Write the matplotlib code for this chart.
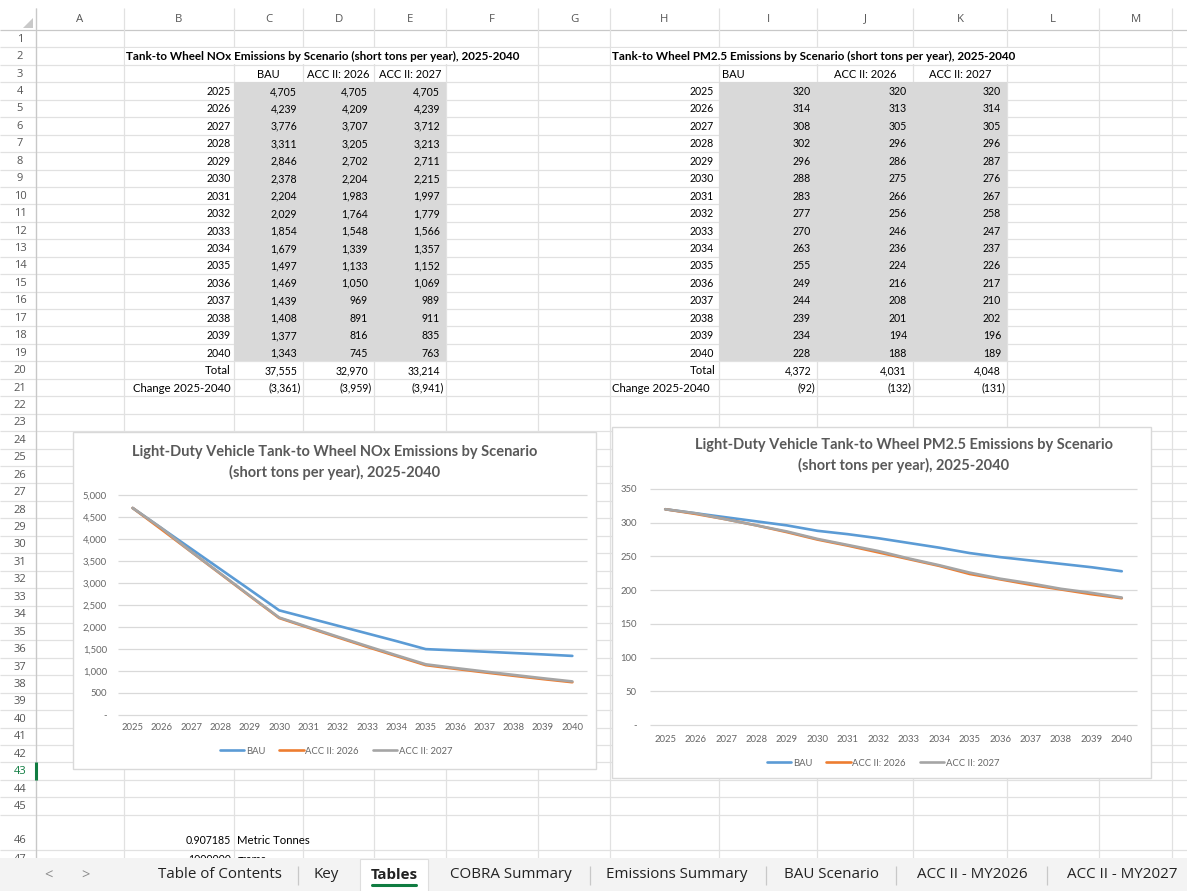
import matplotlib
matplotlib.use("Agg")
import matplotlib.pyplot as plt
from matplotlib.patches import Rectangle, Polygon

# ---- data -------------------------------------------------------------
years = [2025, 2026, 2027, 2028, 2029, 2030, 2031, 2032,
         2033, 2034, 2035, 2036, 2037, 2038, 2039, 2040]
scenarios = ["BAU", "ACC II: 2026", "ACC II: 2027"]

nox_bau = [4705, 4239, 3776, 3311, 2846, 2378, 2204, 2029,
           1854, 1679, 1497, 1469, 1439, 1408, 1377, 1343]
nox_acc26 = [4705, 4209, 3707, 3205, 2702, 2204, 1983, 1764,
             1548, 1339, 1133, 1050, 969, 891, 816, 745]
nox_acc27 = [4705, 4239, 3712, 3213, 2711, 2215, 1997, 1779,
             1566, 1357, 1152, 1069, 989, 911, 835, 763]
nox_total = [37555, 32970, 33214]
nox_change = [-3361, -3959, -3941]

pm_bau = [320, 314, 308, 302, 296, 288, 283, 277,
          270, 263, 255, 249, 244, 239, 234, 228]
pm_acc26 = [320, 313, 305, 296, 286, 275, 266, 256,
            246, 236, 224, 216, 208, 201, 194, 188]
pm_acc27 = [320, 314, 305, 296, 287, 276, 267, 258,
            247, 237, 226, 217, 210, 202, 196, 189]
pm_total = [4372, 4031, 4048]
pm_change = [-92, -132, -131]

conversion_value = ["0.907185", "1000000"]
conversion_unit = ["Metric Tonnes", "grams"]

sheet_tabs = ["Table of Contents", "Key", "Tables", "COBRA Summary",
              "Emissions Summary", "BAU Scenario", "ACC II - MY2026", "ACC II - MY2027"]
active_tab = "Tables"

nox_title = "Tank-to Wheel NOx Emissions by Scenario (short tons per year), 2025-2040"
pm_title = "Tank-to Wheel PM2.5 Emissions by Scenario (short tons per year), 2025-2040"
nox_chart_title = ["Light-Duty Vehicle Tank-to Wheel NOx Emissions by Scenario",
                   "(short tons per year), 2025-2040"]
pm_chart_title = ["Light-Duty Vehicle Tank-to Wheel PM2.5 Emissions by Scenario",
                  "(short tons per year), 2025-2040"]

# ---- sheet layout ------------------------------------------------------
W, H = 1187, 891
GRID = "#e1e1e1"
FILL = "#d9d9d9"
CELL_FONT = ["Lato", "DejaVu Sans"]
UI_FONT = ["Open Sans", "DejaVu Sans"]
series_colors = ["#5b9bd5", "#ed7d31", "#a5a5a5"]
NUM_SIZE = 7.6   # numbers in cells
TXT_SIZE = 8.2   # words in cells

col_edges = [36, 124, 234, 303, 374, 446, 538, 610, 719, 817, 913, 1007, 1099, 1172, 1260]
col_letters = "ABCDEFGHIJKLMN"
head_top, head_bot = 8, 30
row_h = 17.44
tab_top = 858

row_tops = {}
y = head_bot
for r in range(1, 48):
    row_tops[r] = y
    y += 35 if r == 46 else row_h
row_bot = {r: row_tops[r] + (35 if r == 46 else row_h) for r in row_tops}

fig = plt.figure(figsize=(W / 100, H / 100), dpi=100)
ax = fig.add_axes([0, 0, 1, 1])
ax.set_xlim(0, W)
ax.set_ylim(H, 0)
ax.axis("off")


def row_y(r):
    if r == 46:
        return row_bot[r] - 9
    return (row_tops[r] + row_bot[r]) / 2 + 0.5


def cell(r, c, s, ha="right", bold=False, pad=3, size=NUM_SIZE):
    left, right = col_edges[c], col_edges[c + 1]
    if ha == "right":
        x = right - pad
    elif ha == "left":
        x = left + pad
    else:
        x = (left + right) / 2
    ax.text(x, row_y(r), s, ha=ha, va="center", fontsize=size, color="#000000",
            family=CELL_FONT, weight="bold" if bold else "normal", zorder=4)


def acct(v):
    if v < 0:
        return "(%s)" % format(-v, ","), 2
    return format(v, ","), 6


# grid lines
for r in row_tops:
    ax.hlines(row_bot[r], 0, W, color=GRID, lw=0.9, zorder=1)
ax.hlines(head_bot, 0, W, color="#c8c8c8", lw=0.9, zorder=1)
for x in col_edges:
    ax.vlines(x, head_top, tab_top, color=GRID, lw=0.9, zorder=1)
ax.vlines(col_edges[0], head_top, tab_top, color="#c8c8c8", lw=0.9, zorder=1)

# column and row headers
for i, letter in enumerate(col_letters[:13]):
    ax.text((col_edges[i] + col_edges[i + 1]) / 2, 19, letter, ha="center", va="center",
            fontsize=8.2, color="#555555", family=UI_FONT, zorder=4)
for r in row_tops:
    ax.text(20, row_y(r), str(r), ha="center", va="center", fontsize=8,
            color="#107c41" if r == 43 else "#555555", family=UI_FONT, zorder=4)
ax.vlines(col_edges[0] - 0.5, row_tops[43], row_bot[43], color="#107c41", lw=2.2, zorder=3)
ax.add_patch(Polygon([[33, 18], [33, 28], [23, 28]], closed=True, fc="#c9c9c9", ec="none", zorder=3))

# shaded data blocks
ax.add_patch(Rectangle((col_edges[2], row_tops[4]), col_edges[5] - col_edges[2],
                       row_bot[19] - row_tops[4], fc=FILL, ec="none", zorder=2))
ax.add_patch(Rectangle((col_edges[8], row_tops[4]), col_edges[11] - col_edges[8],
                       row_bot[19] - row_tops[4], fc=FILL, ec="none", zorder=2))
# overflowing titles hide the cell borders under them
ax.add_patch(Rectangle((col_edges[1] + 1, row_tops[2] + 1), col_edges[6] - col_edges[1] - 2,
                       row_h - 2, fc="white", ec="none", zorder=2))
ax.add_patch(Rectangle((col_edges[7] + 1, row_tops[2] + 1), col_edges[12] - col_edges[7] - 2,
                       row_h - 2, fc="white", ec="none", zorder=2))

# NOx table
cell(2, 1, nox_title, ha="left", bold=True, pad=2, size=8.4)
for j, name in enumerate(scenarios):
    cell(3, 2 + j, name, ha="center", size=8.0)
for i, yr in enumerate(years):
    cell(4 + i, 1, str(yr))
    for j, vals in enumerate([nox_bau, nox_acc26, nox_acc27]):
        s, p = acct(vals[i])
        cell(4 + i, 2 + j, s, pad=p)
cell(20, 1, "Total", size=TXT_SIZE)
cell(21, 1, "Change 2025-2040", size=TXT_SIZE)
for j in range(3):
    s, p = acct(nox_total[j])
    cell(20, 2 + j, s, pad=p)
    s, p = acct(nox_change[j])
    cell(21, 2 + j, s, pad=p)

# PM2.5 table
cell(2, 7, pm_title, ha="left", bold=True, pad=2, size=8.4)
cell(3, 8, scenarios[0], ha="left", size=8.0)
cell(3, 9, scenarios[1], ha="center", size=8.0)
cell(3, 10, scenarios[2], ha="center", size=8.0)
for i, yr in enumerate(years):
    cell(4 + i, 7, str(yr), pad=5)
    for j, vals in enumerate([pm_bau, pm_acc26, pm_acc27]):
        s, p = acct(vals[i])
        cell(4 + i, 8 + j, s, pad=p)
cell(20, 7, "Total", size=TXT_SIZE)
cell(21, 7, "Change 2025-2040", ha="left", pad=2, size=TXT_SIZE)
for j in range(3):
    s, p = acct(pm_total[j])
    cell(20, 8 + j, s, pad=p)
    s, p = acct(pm_change[j])
    cell(21, 8 + j, s, pad=p)

# unit conversion rows
for k, r in enumerate([46, 47]):
    cell(r, 1, conversion_value[k])
    cell(r, 2, conversion_unit[k], ha="left", size=TXT_SIZE)


# ---- embedded line charts ---------------------------------------------
def line_chart(frame, plot, title_x, title_y, title, series, ymax, ystep,
               ypad, xpad, legend_xy):
    fx0, fy0, fx1, fy1 = frame
    ax.add_patch(Rectangle((fx0, fy0), fx1 - fx0, fy1 - fy0, fc="white",
                           ec="#d9d9d9", lw=1, zorder=5))
    for k, line in enumerate(title):
        ax.text(title_x, title_y[k], line, ha="center", va="center", fontsize=10.5,
                color="#595959", family=CELL_FONT, weight="bold", zorder=6)
    px0, py0, px1, py1 = plot
    cax = fig.add_axes([px0 / W, 1 - py1 / H, (px1 - px0) / W, (py1 - py0) / H])
    cax.set_facecolor("none")
    for sp in cax.spines.values():
        sp.set_visible(False)
    ticks = list(range(0, ymax + 1, ystep))
    cax.hlines(ticks, -0.5, len(years) - 0.5, color="#d9d9d9", lw=0.9, clip_on=False)
    for vals, name, col in zip(series, scenarios, series_colors):
        cax.plot(range(len(years)), vals, color=col, lw=1.9, label=name,
                 solid_joinstyle="round", solid_capstyle="round", clip_on=False)
    cax.set_xlim(-0.5, len(years) - 0.5)
    cax.set_ylim(0, ymax)
    cax.set_xticks(range(len(years)))
    cax.set_xticklabels([str(v) for v in years])
    cax.set_yticks(ticks)
    cax.set_yticklabels(["-" if t == 0 else format(t, ",") for t in ticks])
    cax.tick_params(axis="y", length=0, pad=ypad, labelsize=6.8, labelcolor="#666666")
    cax.tick_params(axis="x", length=0, pad=xpad, labelsize=6.8, labelcolor="#666666")
    for lab in cax.get_xticklabels() + cax.get_yticklabels():
        lab.set_family(CELL_FONT)
    leg = cax.legend(loc="center", bbox_to_anchor=(legend_xy[0] / W, 1 - legend_xy[1] / H),
                     bbox_transform=fig.transFigure, ncol=3, frameon=False,
                     fontsize=6.8, handlelength=2.6, handletextpad=0.15,
                     columnspacing=1.5, borderaxespad=0)
    for t in leg.get_texts():
        t.set_color("#666666")
        t.set_family(CELL_FONT)
    return cax


line_chart((73, 432, 596, 769), (118, 495, 587, 715), 335, [452, 472],
           nox_chart_title, [nox_bau, nox_acc26, nox_acc27], 5000, 500,
           8.0, 6.0, (336, 751))
line_chart((612, 427, 1151, 778), (650, 489, 1137, 725), 904, [445, 465],
           pm_chart_title, [pm_bau, pm_acc26, pm_acc27], 350, 50,
           9.5, 7.0, (883, 763))

# ---- sheet tabs ---------------------------------------------------------
ax.add_patch(Rectangle((0, tab_top), W, H - tab_top, fc="#f3f3f3", ec="none", zorder=10))
ax.text(48, 876, "<", ha="center", va="center", fontsize=10.5, color="#8a8a8a",
        family=UI_FONT, zorder=11)
ax.text(85, 876, ">", ha="center", va="center", fontsize=10.5, color="#8a8a8a",
        family=UI_FONT, zorder=11)
tab_centers = [220, 326, 394, 511, 677, 832, 972, 1122]
tab_seps = [298, 590, 766, 896, 1047]
for name, cx in zip(sheet_tabs, tab_centers):
    if name == active_tab:
        ax.add_patch(Rectangle((cx - 34, tab_top + 1), 68, H - tab_top, fc="white",
                               ec="#dedede", lw=0.8, zorder=11))
        ax.plot([cx - 22, cx + 22], [885, 885], color="#107c41", lw=2.2,
                solid_capstyle="round", zorder=12)
    ax.text(cx, 875, name, ha="center", va="center", fontsize=10.9, color="#222222",
            family=UI_FONT, weight="bold" if name == active_tab else "normal", zorder=12)
for x in tab_seps:
    ax.vlines(x, 866, 885, color="#c8c8c8", lw=0.9, zorder=11)

fig.savefig("out.png", dpi=100)
